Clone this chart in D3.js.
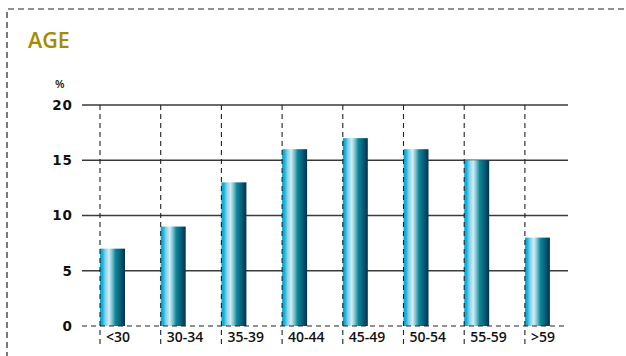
<!DOCTYPE html>
<html>
<head>
<meta charset="utf-8">
<script src="https://cdn.jsdelivr.net/npm/d3@7"></script>
<style>
  html, body { margin: 0; padding: 0; background: #fff; }
  svg { display: block; }
</style>
</head>
<body>
<svg id="chart" width="626" height="356"></svg>
<script>
// Age distribution of respondents, in percent
const categories = ["<30", "30-34", "35-39", "40-44", "45-49", "50-54", "55-59", ">59"];
const values = [7, 9, 13, 16, 17, 16, 15, 8];
const yTicks = [0, 5, 10, 15, 20];

const svg = d3.select("#chart");
const W = 626, H = 356;

// Dashed frame around the panel
svg.append("path")
  .attr("d", `M7,${H + 2} L7,9 L${W + 2},9`)
  .attr("fill", "none")
  .attr("stroke", "#222")
  .attr("stroke-width", 1.2)
  .attr("stroke-dasharray", "6,4");

// Title
svg.append("text")
  .attr("x", 28).attr("y", 48)
  .attr("font-family", "'Open Sans', sans-serif")
  .attr("font-size", 21.5)
  .attr("font-weight", 600)
  .attr("fill", "#a68a02")
  .text("AGE");

svg.append("text")
  .attr("x", 55).attr("y", 88)
  .attr("font-family", "'Open Sans', sans-serif")
  .attr("font-size", 11)
  .attr("font-weight", 600)
  .attr("fill", "#111")
  .text("%");

const y = d3.scaleLinear().domain([0, 20]).range([326, 105]);
const x = d3.scaleBand().domain(categories).range([100, 585.6]).paddingInner(0).paddingOuter(0);
const barW = 25;
const gridX0 = 82, gridX1 = 568;

// Gradient giving the bars a cylindrical look
const defs = svg.append("defs");
const grad = defs.append("linearGradient").attr("id", "barGrad")
  .attr("x1", "0%").attr("x2", "100%").attr("y1", "0%").attr("y2", "0%");
[
  [0, "#00a9d8"], [0.1, "#14b2dc"], [0.2, "#7fcfe6"], [0.36, "#d4ecf3"],
  [0.48, "#7ec4d2"], [0.62, "#0d8696"], [0.8, "#08617a"], [1, "#06304c"]
].forEach(([o, c]) => grad.append("stop").attr("offset", o).attr("stop-color", c));

// Horizontal gridlines (solid above zero, dashed at zero)
svg.append("g").selectAll("line")
  .data(yTicks.filter(t => t > 0))
  .join("line")
  .attr("x1", gridX0).attr("x2", gridX1)
  .attr("y1", d => y(d)).attr("y2", d => y(d))
  .attr("stroke", "#3a3a3a").attr("stroke-width", 1.4);

// Bars
svg.append("g").selectAll("rect")
  .data(values)
  .join("rect")
  .attr("x", (d, i) => x(categories[i]))
  .attr("y", d => y(d))
  .attr("width", barW)
  .attr("height", d => y(0) - y(d))
  .attr("fill", "url(#barGrad)");

// Zero line
svg.append("line")
  .attr("x1", gridX0).attr("x2", gridX1)
  .attr("y1", y(0)).attr("y2", y(0))
  .attr("stroke", "#222").attr("stroke-width", 1.2)
  .attr("stroke-dasharray", "5,4");

// Dashed category separators
svg.append("g").selectAll("line")
  .data(categories)
  .join("line")
  .attr("x1", d => x(d)).attr("x2", d => x(d))
  .attr("y1", y(20)).attr("y2", 346)
  .attr("stroke", "#222").attr("stroke-width", 1.1)
  .attr("stroke-dasharray", "5,4");

// Y axis labels
const yAxis = d3.axisLeft(y).tickValues(yTicks).tickSize(0).tickPadding(0);
const yg = svg.append("g").attr("transform", "translate(73,0)").call(yAxis);
yg.select(".domain").remove();
yg.selectAll("text")
  .attr("font-family", "'DejaVu Sans', sans-serif")
  .attr("font-size", 13.5)
  .attr("font-weight", 700)
  .attr("letter-spacing", 1)
  .attr("fill", "#111");

// Category labels
svg.append("g").selectAll("text")
  .data(categories)
  .join("text")
  .attr("x", d => x(d) + 6)
  .attr("y", 342)
  .attr("font-family", "'Open Sans', sans-serif")
  .attr("font-size", 14)
  .attr("font-weight", 600)
  .attr("fill", "#111")
  .text(d => d);
</script>
</body>
</html>
